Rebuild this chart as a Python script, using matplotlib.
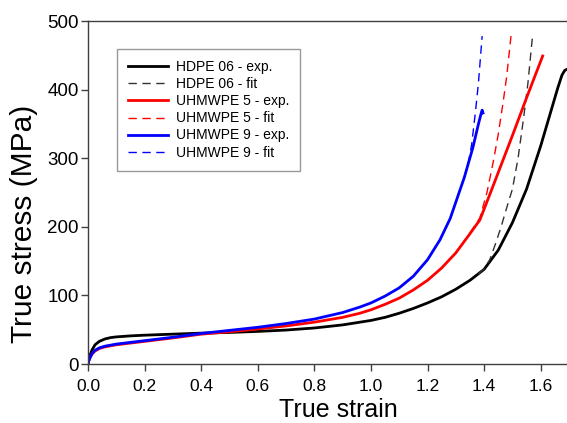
import matplotlib.pyplot as plt

plt.rcParams['font.family'] = ['Liberation Sans', 'DejaVu Sans']

# HDPE 06 - experiment
hdpe_x = [0, 0.003, 0.008, 0.015, 0.025, 0.04, 0.06, 0.08, 0.1, 0.15, 0.2, 0.3, 0.4,
          0.5, 0.6, 0.7, 0.8, 0.9, 1.0, 1.05, 1.1, 1.15, 1.2, 1.25, 1.3, 1.35, 1.4,
          1.45, 1.5, 1.55, 1.6, 1.63, 1.66, 1.675, 1.685, 1.695]
hdpe_y = [0, 6, 14, 21, 28, 33, 36.5, 38.5, 39.5, 41, 42, 43.5, 45,
          46, 47.5, 49.5, 52.5, 57, 63.5, 68, 74, 81, 89, 98, 109, 122, 138,
          166, 206, 255, 318, 360, 402, 421, 428, 430]
# HDPE 06 - fit
hdpe_fit_x = [1.38, 1.4, 1.42, 1.44, 1.46, 1.48, 1.5, 1.52, 1.54, 1.555, 1.571]
hdpe_fit_y = [131, 139, 152, 175, 200, 228, 255, 300, 360, 410, 478]

# UHMWPE 5 - experiment
u5_x = [0, 0.003, 0.008, 0.015, 0.025, 0.04, 0.06, 0.08, 0.1, 0.15, 0.2, 0.3, 0.4,
        0.5, 0.6, 0.7, 0.8, 0.9, 0.961, 1.0, 1.05, 1.1, 1.15, 1.2, 1.25, 1.3, 1.35,
        1.385, 1.42, 1.46, 1.5, 1.55, 1.607]
u5_y = [0, 5, 10, 15, 19, 22.5, 25, 26.5, 28, 30.5, 33, 38, 43.5,
        47, 51, 55.5, 61, 68, 74, 79, 87, 96, 108, 122, 140, 162, 190,
        210, 247, 290, 333, 388, 449]
# UHMWPE 5 - fit
u5_fit_x = [1.35, 1.385, 1.41, 1.432, 1.45, 1.467, 1.48, 1.495]
u5_fit_y = [191, 213, 250, 294, 335, 381, 420, 478]

# UHMWPE 9 - experiment
u9_x = [0, 0.003, 0.008, 0.015, 0.025, 0.04, 0.06, 0.08, 0.1, 0.15, 0.2, 0.3, 0.4,
        0.5, 0.6, 0.7, 0.8, 0.9, 0.961, 1.0, 1.05, 1.1, 1.15, 1.2, 1.244, 1.28, 1.3,
        1.33, 1.36, 1.38, 1.39, 1.393, 1.396]
u9_y = [0, 5, 10, 15.5, 20, 23.5, 26, 27.5, 29, 31.5, 34, 39, 44.5,
        49, 53.5, 59, 65.5, 75, 83, 89, 99, 111, 128, 152, 181, 212, 236,
        272, 315, 350, 366, 370, 366]
# UHMWPE 9 - fit
u9_fit_x = [1.33, 1.345, 1.356, 1.37, 1.38, 1.393]
u9_fit_y = [272, 295, 320, 370, 410, 478]

fig = plt.figure(figsize=(5.67, 4.23), dpi=100)
ax = fig.add_axes([88 / 567, 1 - 364 / 423, 481 / 567, 343 / 423])

ax.plot(hdpe_x, hdpe_y, color='black', lw=2, label='HDPE 06 - exp.')
ax.plot(hdpe_fit_x, hdpe_fit_y, color='#333333', lw=1, ls=(0, (6, 4)), label='HDPE 06 - fit')
ax.plot(u5_x, u5_y, color='red', lw=2, label='UHMWPE 5 - exp.')
ax.plot(u5_fit_x, u5_fit_y, color='red', lw=1, ls=(0, (6, 4)), label='UHMWPE 5 - fit')
ax.plot(u9_x, u9_y, color='blue', lw=2, label='UHMWPE 9 - exp.')
ax.plot(u9_fit_x, u9_fit_y, color='blue', lw=1, ls=(0, (6, 4)), label='UHMWPE 9 - fit')

ax.set_xlim(0, 1.7)
ax.set_ylim(0, 500)
ax.set_xticks([0.0, 0.2, 0.4, 0.6, 0.8, 1.0, 1.2, 1.4, 1.6])
ax.set_xticklabels(['0.0', '0.2', '0.4', '0.6', '0.8', '1.0', '1.2', '1.4', '1.6'])
ax.set_yticks([0, 100, 200, 300, 400, 500])
ax.tick_params(direction='out', length=5, width=1, color='#404040')
ax.tick_params(axis='x', labelsize=12.5, pad=6)
ax.tick_params(axis='y', labelsize=13.5, pad=1.5)
for s in ax.spines.values():
    s.set_color('#404040')
    s.set_linewidth(1)
ax.spines['right'].set_visible(False)

ax.set_xlabel('True strain', fontsize=18)
ax.xaxis.set_label_coords(0.52, -0.1)
ax.set_ylabel('True stress (MPa)', fontsize=21.5)
ax.yaxis.set_label_coords(-0.104, 0.408)

leg = ax.legend(loc='upper left', bbox_to_anchor=(0.06, 0.918), fontsize=10,
                frameon=True, fancybox=False, edgecolor='#808080',
                handlelength=2.9, handletextpad=0.55, labelspacing=0.22,
                borderpad=0.8, borderaxespad=0)
leg.get_frame().set_linewidth(1)

fig.savefig('out.png', dpi=100)
